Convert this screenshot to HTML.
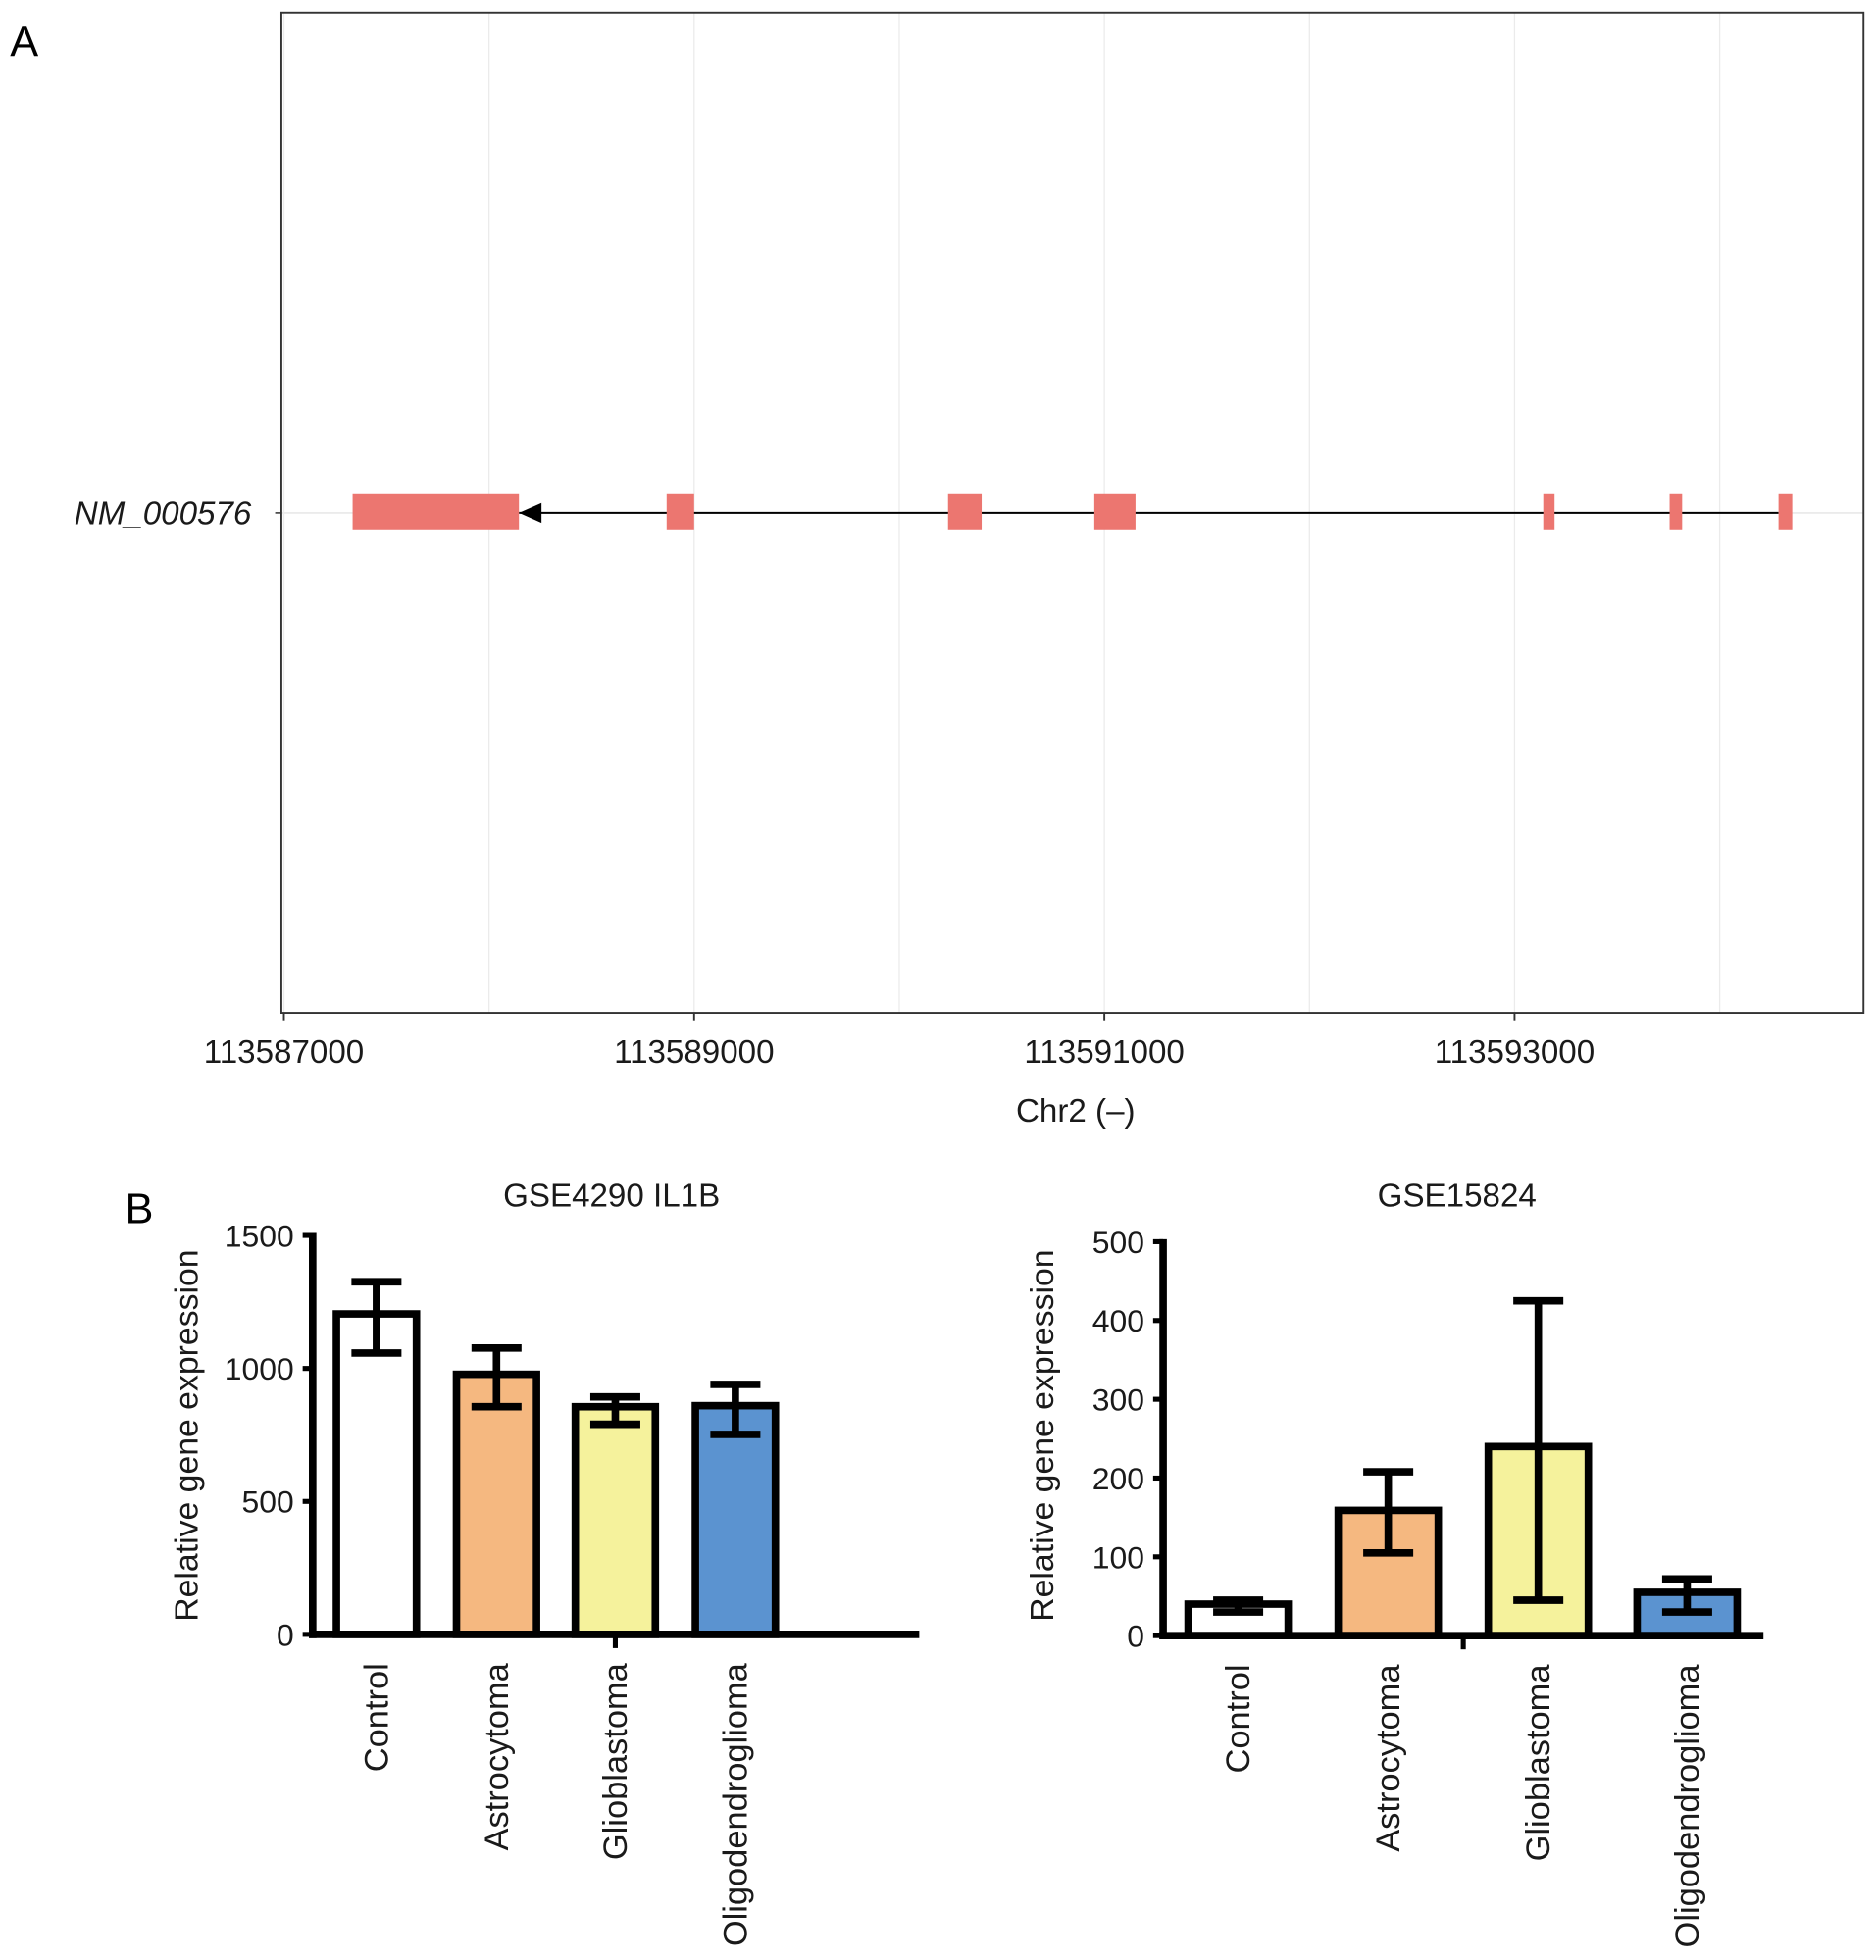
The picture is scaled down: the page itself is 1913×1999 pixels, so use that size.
<!DOCTYPE html>
<html><head><meta charset="utf-8"><style>
html,body{margin:0;padding:0;background:#fff;}
svg{display:block;font-family:"Liberation Sans",Arial,sans-serif;}
</style></head><body>
<svg id="fig" width="1913" height="1999" viewBox="0 0 1500 1567.4" xmlns="http://www.w3.org/2000/svg">
<rect width="1500" height="1568" fill="#fff"/>
<text x="8" y="45" font-size="34">A</text>
<text x="100" y="978" font-size="34">B</text>
<g id="gA"></g>
<g id="gB1"></g>
<g id="gB2"></g>
</svg>
<script>
const NS="http://www.w3.org/2000/svg";
function mk(p,t,a,txt){const e=document.createElementNS(NS,t);for(const k in a)e.setAttribute(k,a[k]);if(txt!==undefined)e.textContent=txt;p.appendChild(e);return e;}

// ---- Panel A data ----
const exonStarts=[113587335,113588866,113590238,113590951,113593140,113593756,113594287];
const exonEnds=[113588146,113589000,113590402,113591152,113593195,113593817,113594354];
const genomeTicks=[113587000,113589000,113591000,113593000];
const minorGrid=[113588000,113590000,113592000,113594000];
const transcriptName="NM_000576";

// ---- Panel B data ----
const categories=["Control","Astrocytoma","Glioblastoma","Oligodendroglioma"];
const colors=["#ffffff","#f5b880","#f5f29c","#5b93d0"];
const gse4290Values=[1205,978,856,860];
const gse4290Upper=[1326,1077,893,940];
const gse4290Lower=[1058,856,790,752];
const gse4290Ticks=[0,500,1000,1500];
const gse15824Values=[40,159,240,55];
const gse15824Upper=[45,208,425,72];
const gse15824Lower=[30,105,45,30];
const gse15824Ticks=[0,100,200,300,400,500];

// Panel A
(function(){
  const g=document.getElementById('gA');
  const L=225,R=1490,T=10,B=810;
  const x=v=>227+(v-113587000)/1000*164;
  const yc=410;
  minorGrid.concat(genomeTicks).forEach(v=>{const e=mk(g,'line',{x1:x(v),x2:x(v),y1:T,y2:B,stroke:'#ebebeb','stroke-width':1});
    });
  const hl=mk(g,'line',{x1:L,x2:R,y1:yc,y2:yc,stroke:'#ebebeb','stroke-width':1.5});
  
  const ln=mk(g,'line',{x1:x(exonEnds[0]),x2:x(exonStarts[exonStarts.length-1]),y1:yc,y2:yc,stroke:'#000','stroke-width':1.6});
  
  const ax=x(exonEnds[0]);
  const ar=mk(g,'polygon',{points:`${ax},${yc} ${ax+18},${yc-8} ${ax+18},${yc+8}`,fill:'#000'});
  
  exonStarts.forEach((s,i)=>{const r=mk(g,'rect',{x:x(s),y:yc-15,width:x(exonEnds[i])-x(s),height:29,fill:'#ec7670'});
    });
  const bx=mk(g,'rect',{x:L,y:T,width:R-L,height:B-T,fill:'none',stroke:'#333','stroke-width':1.5});
  
  mk(g,'line',{x1:L-5,x2:L,y1:yc,y2:yc,stroke:'#333','stroke-width':1.2});
  const lb=mk(g,'text',{x:201,y:yc+9,'font-size':26,'font-style':'italic','text-anchor':'end',fill:'#1a1a1a'},transcriptName);
  
  genomeTicks.forEach(v=>{mk(g,'line',{x1:x(v),x2:x(v),y1:B,y2:B+6,stroke:'#333','stroke-width':1.5});
    const t=mk(g,'text',{x:x(v),y:850,'font-size':26,'text-anchor':'middle',fill:'#1a1a1a'},String(v));
    });
  const xt=mk(g,'text',{x:860,y:897,'font-size':26,'text-anchor':'middle',fill:'#1a1a1a'},'Chr2 (–)');
  
})();

function barChart(g,o){
  const y=v=>o.zeroY-(v/o.max)*(o.zeroY-o.topY);
  const sw=6;
  o.vals.forEach((v,i)=>{const c=o.centers[i];
    const r=mk(g,'rect',{x:c-o.bw/2,y:y(v),width:o.bw,height:o.zeroY-y(v),fill:colors[i],stroke:'#000','stroke-width':sw});
    
    const e=mk(g,'path',{d:`M${c},${y(o.up[i])}V${y(o.lo[i])}M${c-20},${y(o.up[i])}H${c+20}M${c-20},${y(o.lo[i])}H${c+20}`,stroke:'#000','stroke-width':sw,fill:'none'});
    
    const t=mk(g,'text',{x:c+9,y:o.zeroY+23,'font-size':27,'text-anchor':'end',transform:`rotate(-90 ${c+9} ${o.zeroY+23})`,fill:'#1a1a1a'},categories[i]);
    
  });
  const ya=mk(g,'line',{x1:o.axX,x2:o.axX,y1:o.topY-2,y2:o.zeroY+3,stroke:'#000','stroke-width':sw});
  
  const xa=mk(g,'line',{x1:o.axX-3,x2:o.axEnd,y1:o.zeroY,y2:o.zeroY,stroke:'#000','stroke-width':sw});
  
  mk(g,'line',{x1:o.midTick,x2:o.midTick,y1:o.zeroY,y2:o.zeroY+11,stroke:'#000','stroke-width':4});
  o.ticks.forEach(v=>{mk(g,'line',{x1:o.axX-8,x2:o.axX,y1:y(v),y2:y(v),stroke:'#000','stroke-width':4});
    const t=mk(g,'text',{x:o.axX-15,y:y(v)+9,'font-size':25,'text-anchor':'end',fill:'#1a1a1a'},String(v));
    });
  const yt=mk(g,'text',{x:o.ytX,y:1148,'font-size':26.5,'text-anchor':'middle',transform:`rotate(-90 ${o.ytX} 1148)`,fill:'#1a1a1a'},'Relative gene expression');
  
  const ti=mk(g,'text',{x:o.titleX,y:965,'font-size':26,'text-anchor':'middle',fill:'#1a1a1a'},o.title);
  
}
barChart(document.getElementById('gB1'),{vals:gse4290Values,up:gse4290Upper,lo:gse4290Lower,ticks:gse4290Ticks,max:1500,
  zeroY:1307,topY:988,axX:250,axEnd:735,centers:[301,397,492,588],bw:64,midTick:492,ytX:158,titleX:489,title:'GSE4290 IL1B'});
barChart(document.getElementById('gB2'),{vals:gse15824Values,up:gse15824Upper,lo:gse15824Lower,ticks:gse15824Ticks,max:500,
  zeroY:1308,topY:993,axX:930,axEnd:1410,centers:[990,1110,1230,1349],bw:80,midTick:1170,ytX:842,titleX:1165,title:'GSE15824'});
</script>
</body></html>
